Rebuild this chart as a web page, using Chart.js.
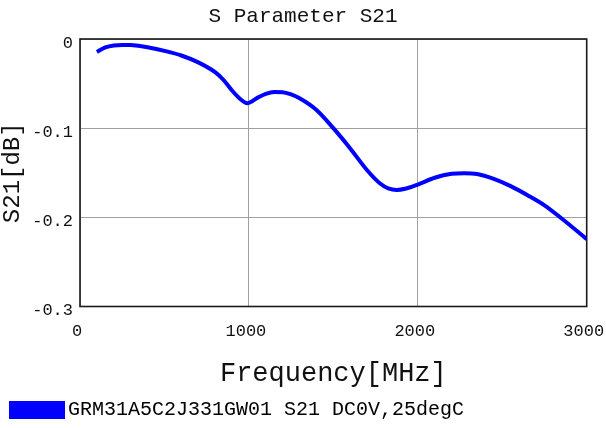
<!DOCTYPE html>
<html>
<head>
<meta charset="utf-8">
<script src="https://cdn.jsdelivr.net/npm/chart.js@4/dist/chart.umd.min.js"></script>
<style>
  html, body { margin: 0; padding: 0; background: #ffffff; }
  #wrap { width: 606px; height: 428px; position: relative; }
</style>
</head>
<body>
<div id="wrap"><canvas id="c" width="606" height="428"></canvas></div>
<script>
const chartTitle = 'S Parameter S21';
const xAxisTitle = 'Frequency[MHz]';
const yAxisTitle = 'S21[dB]';
const seriesName = 'GRM31A5C2J331GW01 S21 DC0V,25degC';

const freqMHz = [100, 150, 200, 250, 300, 400, 500, 600, 700, 800, 850, 900, 950, 990,
  1050, 1100, 1150, 1200, 1250, 1300, 1400, 1500, 1600, 1700, 1775, 1825, 1875, 1925,
  2000, 2100, 2200, 2275, 2350, 2450, 2550, 2650, 2750, 2850, 2950, 3000];
const s21dB = [-0.0145, -0.0095, -0.0072, -0.0066, -0.0068, -0.0092, -0.0133, -0.0185, -0.0262, -0.0372, -0.0460, -0.0578, -0.0675, -0.0720,
  -0.0660, -0.0615, -0.0594, -0.0596, -0.0622, -0.0665, -0.0796, -0.1000, -0.1228, -0.1472, -0.1618, -0.1675, -0.1693, -0.1680,
  -0.1632, -0.1556, -0.1512, -0.1505, -0.1513, -0.1568, -0.1650, -0.1752, -0.1865, -0.2010, -0.2165, -0.2245];

const xTickValues = [0, 1000, 2000, 3000];
const xTickLabels = ['0', '1000', '2000', '3000'];
const yTickValues = [0, -0.1, -0.2, -0.3];
const yTickLabels = ['0', '-0.1', '-0.2', '-0.3'];

const FONT = "'Liberation Mono', 'Courier New', monospace";
const LINE_COLOR = '#0000ff';
const TEXT_COLOR = '#111';

const points = freqMHz.map((f, i) => ({ x: f, y: s21dB[i] }));

function labelFor(values, labels, v) {
  for (let i = 0; i < values.length; i++) {
    if (Math.abs(values[i] - v) < 1e-6) return labels[i];
  }
  return '';
}

const framePlugin = {
  id: 'frame',
  beforeDatasetsDraw(chart) {
    const a = chart.chartArea;
    const ctx = chart.ctx;
    ctx.save();
    ctx.strokeStyle = '#1a1a1a';
    ctx.lineWidth = 1.6;
    ctx.strokeRect(a.left, a.top, a.right - a.left, a.bottom - a.top);
    ctx.restore();
  }
};

new Chart(document.getElementById('c'), {
  type: 'line',
  data: {
    datasets: [{
      label: seriesName,
      data: points,
      borderColor: LINE_COLOR,
      backgroundColor: LINE_COLOR,
      borderWidth: 4,
      pointRadius: 0,
      fill: false,
      cubicInterpolationMode: 'monotone'
    }]
  },
  plugins: [framePlugin],
  options: {
    responsive: false,
    animation: false,
    layout: { padding: { left: 0, right: 0, top: 0, bottom: -2 } },
    plugins: {
      title: {
        display: true,
        text: chartTitle,
        color: TEXT_COLOR,
        font: { family: FONT, size: 21, weight: 'normal', lineHeight: 1.2 },
        padding: { top: 4, bottom: 9.8 }
      },
      legend: {
        display: true,
        position: 'bottom',
        align: 'start',
        labels: {
          font: { family: FONT, size: 20 },
          color: TEXT_COLOR,
          boxWidth: 42,
          boxHeight: 4,
          padding: 16,
          generateLabels() {
            return [{
              text: seriesName,
              fillStyle: LINE_COLOR,
              strokeStyle: LINE_COLOR,
              lineWidth: 14,
              lineJoin: 'miter',
              hidden: false,
              datasetIndex: 0
            }];
          }
        }
      },
      tooltip: { enabled: false }
    },
    scales: {
      x: {
        type: 'linear',
        min: 0,
        max: 3000,
        afterBuildTicks(scale) { scale.ticks = xTickValues.map(v => ({ value: v })); },
        afterFit(scale) { scale.height = 77.5; scale.paddingRight = 19.3; scale.paddingLeft = 0; },
        grid: { color: '#a0a0a0', lineWidth: 1, drawTicks: false },
        border: { display: false },
        ticks: {
          font: { family: FONT, size: 17 },
          color: TEXT_COLOR,
          padding: 15,
          labelOffset: -3,
          maxRotation: 0,
          callback: (v) => labelFor(xTickValues, xTickLabels, v)
        },
        title: {
          display: true,
          text: xAxisTitle,
          color: TEXT_COLOR,
          font: { family: FONT, size: 27, lineHeight: 0.5 },
          padding: { top: 0, bottom: 3.25 }
        }
      },
      y: {
        type: 'linear',
        min: -0.3,
        max: 0,
        afterBuildTicks(scale) { scale.ticks = yTickValues.slice().reverse().map(v => ({ value: v })); },
        afterFit(scale) { scale.width = 80; },
        grid: { color: '#a0a0a0', lineWidth: 1, drawTicks: false },
        border: { display: false },
        ticks: {
          font: { family: FONT, size: 17 },
          color: TEXT_COLOR,
          padding: 7,
          labelOffset: 4,
          callback: (v) => labelFor(yTickValues, yTickLabels, v)
        },
        title: {
          display: true,
          text: yAxisTitle,
          color: TEXT_COLOR,
          font: { family: FONT, size: 24, lineHeight: 1 },
          padding: { top: 1, bottom: 0 }
        }
      }
    }
  }
});
</script>
</body>
</html>
